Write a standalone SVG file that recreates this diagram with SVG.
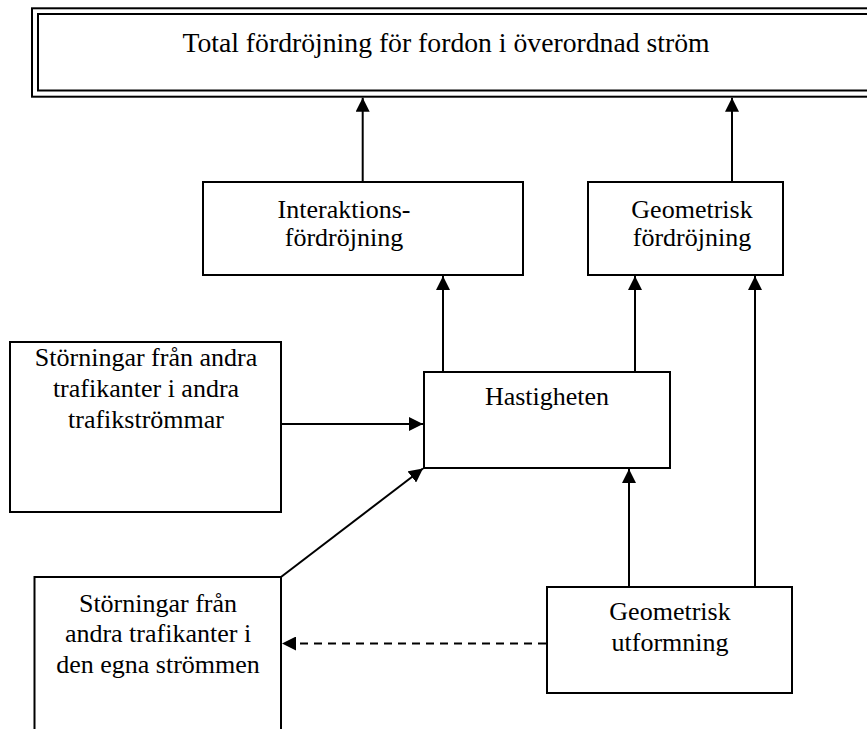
<svg xmlns="http://www.w3.org/2000/svg" width="867" height="729" viewBox="0 0 867 729">
  <defs>
    <style>
      .box { fill: #ffffff; stroke: #000000; stroke-width: 2; }
      .frame { fill: none; stroke: #000000; stroke-width: 2; }
      .lbl { font-family: "Liberation Serif", "Times New Roman", serif; font-size: 26px; fill: #000000; text-anchor: middle; }
      .title { font-size: 27.7px; }
      .link { fill: none; stroke: #000000; stroke-width: 2; }
      .dash { stroke-dasharray: 8 6; }
    </style>
    <marker id="head" viewBox="0 0 14 14" refX="14" refY="7" markerWidth="14" markerHeight="14" markerUnits="userSpaceOnUse" orient="auto">
      <path d="M0,0 L14,7 L0,14 Z" fill="#000000"/>
    </marker>
  </defs>

  <rect width="867" height="729" fill="#ffffff"/>

  <!-- top result box with double frame, open to the right edge -->
  <g id="total">
    <rect class="frame" x="32" y="8.3" width="860" height="88.4"/>
    <rect class="frame" x="38" y="14" width="850" height="76.5"/>
    <text class="lbl title" x="446" y="52">Total fördröjning för fordon i överordnad ström</text>
  </g>

  <g id="interaktion">
    <rect class="box" x="203" y="182" width="320" height="93"/>
    <text class="lbl" x="344" y="218">Interaktions-</text>
    <text class="lbl" x="344" y="246">fördröjning</text>
  </g>

  <g id="geometrisk-fordrojning">
    <rect class="box" x="588" y="182" width="195" height="93"/>
    <text class="lbl" x="692" y="218">Geometrisk</text>
    <text class="lbl" x="692" y="246">fördröjning</text>
  </g>

  <g id="hastigheten">
    <rect class="box" x="424" y="372" width="246" height="96"/>
    <text class="lbl" x="547" y="405">Hastigheten</text>
  </g>

  <g id="storningar-andra">
    <rect class="box" x="10" y="342" width="271" height="170"/>
    <text class="lbl" x="146" y="366">Störningar från andra</text>
    <text class="lbl" x="146" y="397">trafikanter i andra</text>
    <text class="lbl" x="146" y="428">trafikströmmar</text>
  </g>

  <g id="storningar-egna">
    <rect class="box" x="34.5" y="577" width="246.5" height="170"/>
    <text class="lbl" x="158" y="612">Störningar från</text>
    <text class="lbl" x="158" y="642">andra trafikanter i</text>
    <text class="lbl" x="158" y="673">den egna strömmen</text>
  </g>

  <g id="geometrisk-utformning">
    <rect class="box" x="547" y="587" width="245" height="106"/>
    <text class="lbl" x="670" y="620">Geometrisk</text>
    <text class="lbl" x="670" y="651">utformning</text>
  </g>

  <g id="connectors">
    <line class="link" x1="362.7" y1="182" x2="362.7" y2="97.7" marker-end="url(#head)"/>
    <line class="link" x1="732" y1="182" x2="732" y2="97.7" marker-end="url(#head)"/>
    <line class="link" x1="443" y1="372" x2="443" y2="276" marker-end="url(#head)"/>
    <line class="link" x1="635" y1="372" x2="635" y2="276" marker-end="url(#head)"/>
    <line class="link" x1="755" y1="587" x2="755" y2="276" marker-end="url(#head)"/>
    <line class="link" x1="281" y1="424" x2="423" y2="424" marker-end="url(#head)"/>
    <line class="link" x1="281" y1="577" x2="423" y2="468.5" marker-end="url(#head)"/>
    <line class="link" x1="629" y1="587" x2="629" y2="469" marker-end="url(#head)"/>
    <line class="link dash" x1="546" y1="643.5" x2="282" y2="643.5" marker-end="url(#head)"/>
  </g>
</svg>
